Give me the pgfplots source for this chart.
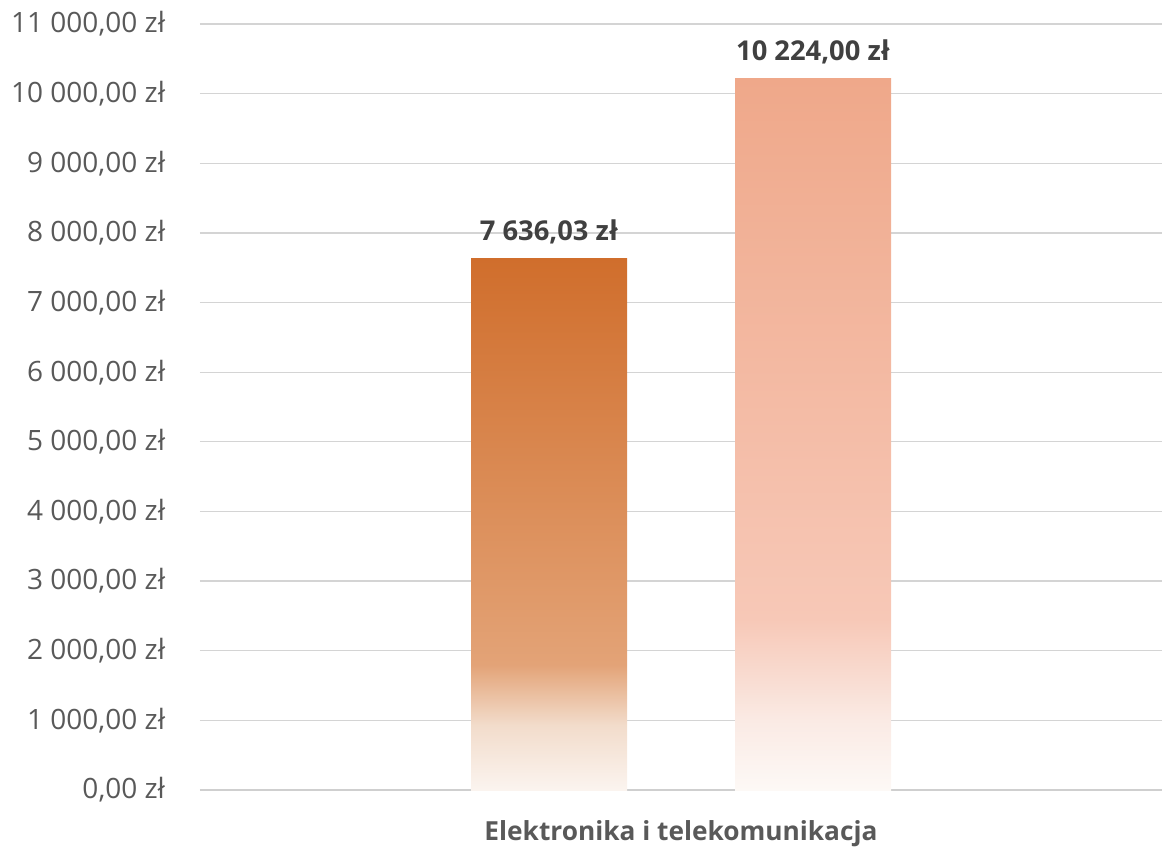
\documentclass[border=0pt]{standalone}
\usepackage{pgfplots}
\pgfplotsset{compat=1.18}
\usepackage{fontspec}
\setmainfont{Open Sans}
\definecolor{tickgray}{HTML}{595959}
\definecolor{labgray}{HTML}{404040}
\definecolor{gridgray}{HTML}{D4D4D4}
\definecolor{axgray}{HTML}{CFCFCF}
\pgfdeclareverticalshading{barone}{100bp}{%
 color(0bp)=(rgb,255:red,251;green,244;blue,239);
 color(25bp)=(rgb,255:red,251;green,244;blue,239);
 color(31.1bp)=(rgb,255:red,242;green,220;blue,203);
 color(36.8bp)=(rgb,255:red,227;green,163;blue,119);
 color(43bp)=(rgb,255:red,224;green,154;blue,106);
 color(75bp)=(rgb,255:red,208;green,110;blue,44);
 color(100bp)=(rgb,255:red,208;green,110;blue,44)}
\pgfdeclareverticalshading{bartwo}{100bp}{%
 color(0bp)=(rgb,255:red,253;green,249;blue,246);
 color(25bp)=(rgb,255:red,253;green,249;blue,246);
 color(29.9bp)=(rgb,255:red,250;green,234;blue,228);
 color(37bp)=(rgb,255:red,247;green,200;blue,183);
 color(75bp)=(rgb,255:red,239;green,168;blue,138);
 color(100bp)=(rgb,255:red,239;green,168;blue,138)}
\begin{document}
\begin{tikzpicture}
\useasboundingbox (-150pt,-42.75pt) rectangle (721.5pt,592.5pt);
\begin{axis}[
  at={(0,0)}, anchor=south west,
  scale only axis, width=721.5pt, height=574.5pt,
  xmin=-1, xmax=1, ymin=0, ymax=11000,
  axis lines*=left,
  x axis line style={-, draw=axgray, line width=1.2pt},
  y axis line style={draw=none},
  ytick={0,1000,...,11000},
  scaled y ticks=false,
  ymajorgrids, grid style={draw=gridgray, line width=1pt},
  major tick length=0pt,
  xtick={0}, xticklabels={\textbf{Elektronika i telekomunikacja}},
  xticklabel style={font=\fontsize{19.7}{23}\selectfont, text=tickgray, yshift=-19.5pt},
  yticklabel style={font=\fontsize{21}{25}\selectfont, text=tickgray, anchor=east, inner sep=0pt},
  yticklabel shift=26pt,
  /pgf/number format/.cd, fixed, fixed zerofill, precision=2, use comma, 1000 sep={\ }, assume math mode=true,
  /pgfplots/.cd,
  yticklabel={\pgfmathprintnumber{\tick}~zł},
  ybar, bar width=117pt,
  clip=false,
  nodes near coords style={font=\fontsize{20.5}{24}\bfseries\selectfont, text=labgray, yshift=7pt},
]
\addplot[draw=none, shading=barone, bar shift=-99pt, nodes near coords={7 636,03 zł}] coordinates {(0,7636.03)};
\addplot[draw=none, shading=bartwo, bar shift=99pt, nodes near coords={10 224,00 zł}] coordinates {(0,10224)};
\end{axis}
\end{tikzpicture}
\end{document}
